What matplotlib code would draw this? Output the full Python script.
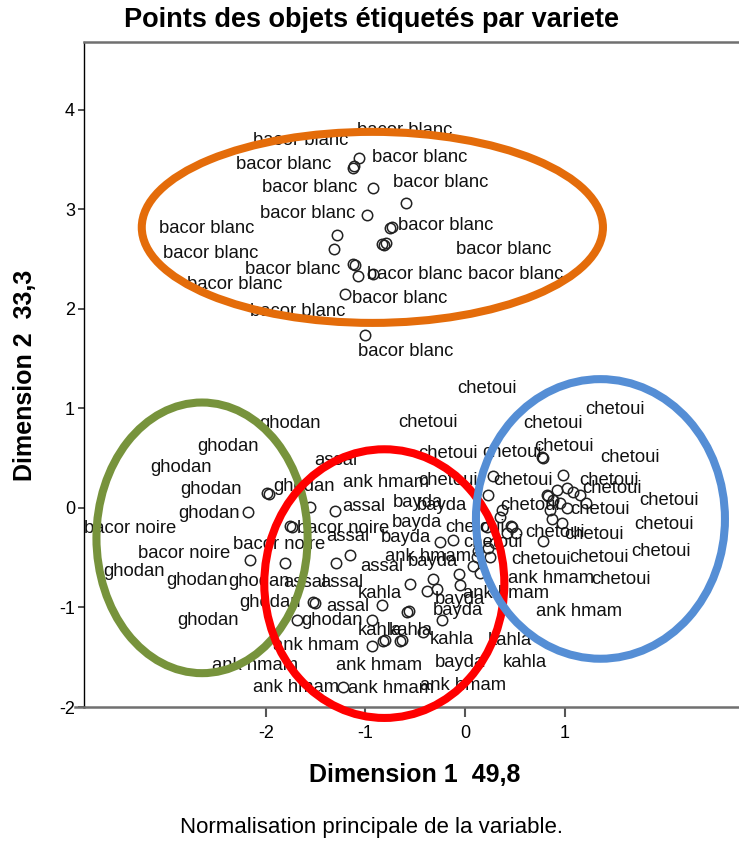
import matplotlib
matplotlib.use("Agg")
import matplotlib.pyplot as plt
from matplotlib.patches import Ellipse

plt.rcParams['font.family'] = ['Liberation Sans', 'DejaVu Sans']

# object scores (circles)
obj_x = [-1.06, -1.12, -1.11, -0.92, -0.59, -0.98, -0.73, -0.75, -1.28, -0.83, -0.81, -0.79,
         -1.32, -1.12, -1.10, -1.07, -0.92, -1.20, -1.00,
         -1.99, -1.97, -2.18, -1.56, -1.31, -1.76, -1.74, -2.16, -1.81, -1.29, -1.15, -1.53,
         -1.51, -1.69, -0.93, -0.93, -1.22, -0.83, -0.58, -0.56, -0.82, -0.80, -0.65, -0.63,
         -0.42, -0.23, -0.55, -0.32, -0.06, -0.38, -0.28, -0.05, -0.25, -0.12,
         0.77, 0.78, 0.98, 0.28, 0.23, 0.82, 0.83, 0.92, 1.02, 1.08, 1.15, 1.21, 0.88, 0.95,
         0.85, 1.02, 0.87, 0.97, 0.46, 0.47, 0.35, 0.42, 0.51, 0.22, 0.37, 0.78, 0.30, 0.23,
         0.12, 0.25, 0.15, 0.08, 0.13]
obj_y = [3.52, 3.42, 3.44, 3.22, 3.06, 2.94, 2.82, 2.81, 2.74, 2.65, 2.64, 2.66,
         2.60, 2.45, 2.44, 2.33, 2.35, 2.15, 1.74,
         0.15, 0.14, -0.04, 0.01, -0.03, -0.18, -0.19, -0.52, -0.55, -0.55, -0.47, -0.94,
         -0.95, -1.13, -1.13, -1.39, -1.80, -0.97, -1.05, -1.04, -1.34, -1.33, -1.34, -1.33,
         -1.25, -1.13, -0.76, -0.71, -0.66, -0.83, -0.81, -0.77, -0.34, -0.32,
         0.51, 0.50, 0.33, 0.32, 0.13, 0.13, 0.12, 0.18, 0.20, 0.16, 0.13, 0.05, 0.08, 0.05,
         -0.02, 0.00, -0.11, -0.15, -0.18, -0.19, -0.09, -0.25, -0.25, -0.19, -0.02, -0.33,
         -0.35, -0.40, -0.49, -0.49, -0.65, -0.58, -0.43]

# label positions per variety
bacor_blanc_x = [-1.08, -2.13, -2.30, -0.93, -2.04, -0.72, -2.06, -0.67, -3.07, -3.03, -0.09,
                 -2.21, -0.98, 0.03, -2.79, -1.13, -2.16, -1.07]
bacor_blanc_y = [3.79, 3.69, 3.45, 3.52, 3.22, 3.27, 2.96, 2.84, 2.81, 2.56, 2.60,
                 2.40, 2.35, 2.35, 2.25, 2.11, 1.97, 1.57]
ghodan_x = [-2.07, -2.69, -3.16, -2.86, -1.93, -2.88, -3.63, -3.00, -2.38, -2.27, -2.89, -1.64]
ghodan_y = [0.85, 0.62, 0.41, 0.19, 0.22, -0.06, -0.64, -0.73, -0.74, -0.95, -1.13, -1.13]
bacor_noire_x = [-3.82, -3.28, -2.33, -1.69]
bacor_noire_y = [-0.21, -0.46, -0.37, -0.21]
assal_x = [-1.51, -1.23, -1.39, -1.05, -1.82, -1.45, -1.39]
assal_y = [0.48, 0.01, -0.29, -0.59, -0.75, -0.75, -0.99]
ank_hmam_x = [-1.22, -0.80, -1.93, -2.54, -1.29, -2.13, -1.17, -0.45, 0.43, -0.02, 0.71]
ank_hmam_y = [0.26, -0.49, -1.38, -1.58, -1.58, -1.80, -1.81, -1.78, -0.71, -0.86, -1.04]
bayda_x = [-0.72, -0.48, -0.73, -0.85, -0.57, -0.30, -0.32, -0.30]
bayda_y = [0.06, 0.02, -0.15, -0.30, -0.54, -0.92, -1.03, -1.55]
kahla_x = [-1.08, -1.08, -0.77, -0.35, 0.23, 0.38]
kahla_y = [-0.86, -1.23, -1.23, -1.32, -1.33, -1.55]
chetoui_x = [-0.08, 1.21, 0.58, -0.67, 0.70, -0.47, 0.17, 1.36, 0.28, 1.15, 1.18, -0.47,
             1.75, 0.35, 1.06, 1.70, -0.20, 0.60, 1.00, -0.02, 1.67, 1.05, 0.46, 1.27]
chetoui_y = [1.20, 0.99, 0.85, 0.86, 0.62, 0.55, 0.56, 0.51, 0.28, 0.28, 0.20, 0.28,
             0.08, 0.02, -0.02, -0.17, -0.20, -0.25, -0.27, -0.35, -0.44, -0.50, -0.52, -0.72]

groups = [("bacor blanc", bacor_blanc_x, bacor_blanc_y),
          ("ghodan", ghodan_x, ghodan_y),
          ("bacor noire", bacor_noire_x, bacor_noire_y),
          ("assal", assal_x, assal_y),
          ("ank hmam", ank_hmam_x, ank_hmam_y),
          ("bayda", bayda_x, bayda_y),
          ("kahla", kahla_x, kahla_y),
          ("chetoui", chetoui_x, chetoui_y)]

# hand drawn circles around the clusters: centre x, centre y, width, height, colour
circ_cx = [-0.93, -2.64, -0.81, 1.36]
circ_cy = [2.82, -0.30, -0.76, -0.11]
circ_w = [4.63, 2.12, 2.41, 2.50]
circ_h = [1.92, 2.72, 2.70, 2.81]
circ_col = ['#E46C0A', '#77933C', '#FF0000', '#558ED5']

fig = plt.figure(figsize=(7.39, 8.41), dpi=100)
ax = fig.add_axes([84/739, 1-707/841, 655/739, 665/841])
ax.set_xlim(-3.825, 2.751)
ax.set_ylim(-2.0, 4.683)

ax.plot(obj_x, obj_y, 'o', mfc='none', mec='#222222', ms=7.5, mew=1.1, zorder=2)

for name, xs, ys in groups:
    for x, y in zip(xs, ys):
        ax.text(x, y, name, fontsize=13.3, ha='left', va='center', color='#111111', zorder=3)

for cx, cy, w, h, c in zip(circ_cx, circ_cy, circ_w, circ_h, circ_col):
    ax.add_patch(Ellipse((cx, cy), w, h, fill=False, ec=c, lw=5.8, zorder=4, clip_on=False))

ax.spines['right'].set_visible(False)
ax.spines['left'].set_color('black')
ax.spines['left'].set_linewidth(1.0)
ax.spines['top'].set_color('#707070')
ax.spines['top'].set_linewidth(1.8)
ax.spines['bottom'].set_color('#707070')
ax.spines['bottom'].set_linewidth(1.8)
ax.plot([-0.014, 0], [0, 0], transform=ax.transAxes, color='#707070', lw=1.8, clip_on=False)

ax.set_xticks([-2, -1, 0, 1])
ax.set_yticks([-2, -1, 0, 1, 2, 3, 4])
ax.tick_params(axis='x', direction='out', length=7, width=1.5, color='#555555',
               labelsize=13, pad=6)
ax.tick_params(axis='y', direction='out', length=4.5, width=1.2, color='#333333',
               labelsize=13, pad=2)
ax.set_xticklabels(['-2', '-1', '0', '1'])
ax.set_yticklabels(['-2', '-1', '0', '1', '2', '3', '4'])

fig.text(372/739, 1-20/841, "Points des objets étiquetés par variete", fontsize=19.5,
         fontweight='bold', ha='center', va='center')
fig.text(415/739, 1-775/841, "Dimension 1  49,8", fontsize=18, fontweight='bold',
         ha='center', va='center')
fig.text(25/739, 1-375/841, "Dimension 2  33,3", fontsize=18, fontweight='bold',
         ha='center', va='center', rotation=90)
fig.text(372/739, 1-827/841, "Normalisation principale de la variable.", fontsize=16,
         ha='center', va='center')

fig.savefig('out.png', dpi=100)
